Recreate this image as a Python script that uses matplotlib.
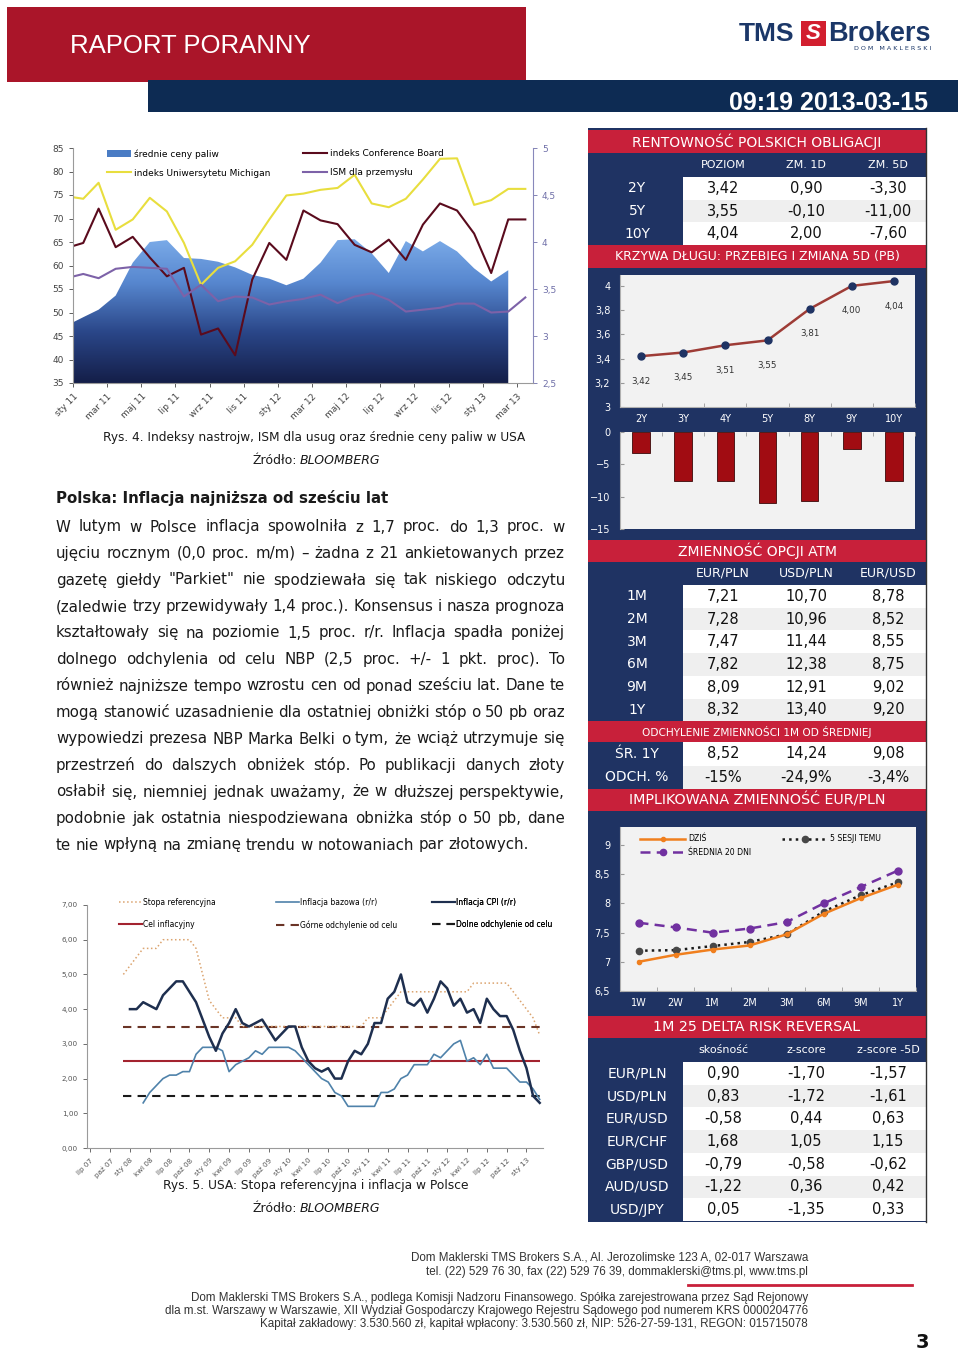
import numpy as np
import matplotlib.pyplot as plt
from matplotlib.patches import Rectangle, Patch
from matplotlib.lines import Line2D
from matplotlib.colors import LinearSegmentedColormap

plt.rcParams['font.family'] = ['DejaVu Sans']

# ---------------- data ----------------
# Rys. 4 - USA (months from sty 11)
us_x = [0.05, 0.6, 1.5, 2.5, 3.5, 4.5, 5.5, 6.5, 7.5, 8.5, 9.5, 10.5, 11.5, 12.5,
        13.5, 14.5, 15.5, 16.5, 17.5, 18.5, 19.5, 20.5, 21.5, 22.5, 23.5, 24.5, 25.5, 26.5]
us_ticks = ['sty 11', 'mar 11', 'maj 11', 'lip 11', 'wrz 11', 'lis 11', 'sty 12', 'mar 12',
            'maj 12', 'lip 12', 'wrz 12', 'lis 12', 'sty 13', 'mar 13']
michigan = [74.5, 74.2, 77.6, 67.6, 69.8, 74.4, 71.5, 64.8, 55.9, 59.5, 60.9, 64.4, 69.8, 74.9,
            75.3, 76.1, 76.5, 79.3, 73.2, 72.4, 74.2, 78.3, 82.7, 82.8, 72.9, 73.9, 76.3, 76.3]
conf_board = [64.2, 64.8, 72.1, 63.9, 66.1, 61.7, 57.7, 59.5, 45.3, 46.6, 40.9, 57.0, 64.8, 61.2,
              71.7, 69.6, 68.8, 64.4, 62.8, 65.5, 61.2, 68.7, 73.2, 71.7, 66.8, 58.4, 69.8, 69.8]
ism = [57.7, 58.2, 57.3, 59.3, 59.7, 59.5, 59.3, 53.4, 55.9, 52.4, 53.4, 53.2, 51.7, 52.4,
       52.9, 53.8, 52.0, 53.4, 54.1, 52.7, 50.2, 50.6, 51.0, 51.9, 51.9, 50.0, 50.2, 53.2]
fuel = [3.15, 3.20, 3.28, 3.43, 3.78, 4.00, 4.02, 3.83, 3.82, 3.79, 3.73, 3.65, 3.61, 3.54,
        3.61, 3.78, 4.02, 4.03, 3.88, 3.67, 4.01, 3.90, 4.01, 3.90, 3.72, 3.58, 3.70]

# Rys. 5 - Polska (months from lip 07)
pl_ticks = ['lip 07', 'paź 07', 'sty 08', 'kwi 08', 'lip 08', 'paź 08', 'sty 09', 'kwi 09',
            'lip 09', 'paź 09', 'sty 10', 'kwi 10', 'lip 10', 'paź 10', 'sty 11', 'kwi 11',
            'lip 11', 'paź 11', 'sty 12', 'kwi 12', 'lip 12', 'paź 12', 'sty 13']
ref_rate = [5.00, 5.25, 5.50, 5.75, 5.75, 5.75, 6.00, 6.00, 6.00, 6.00, 6.00, 5.75, 5.00, 4.25,
            4.00, 3.75, 3.75, 3.75, 3.50, 3.50, 3.50, 3.50, 3.50, 3.50, 3.50, 3.50, 3.50, 3.50,
            3.50, 3.50, 3.50, 3.50, 3.50, 3.50, 3.50, 3.50, 3.50, 3.75, 3.75, 3.75, 4.00, 4.25,
            4.50, 4.50, 4.50, 4.50, 4.50, 4.50, 4.50, 4.50, 4.50, 4.50, 4.50, 4.75, 4.75, 4.75,
            4.75, 4.75, 4.75, 4.50, 4.25, 4.00, 3.75, 3.25]
cpi = [4.0, 4.0, 4.2, 4.1, 4.0, 4.4, 4.6, 4.8, 4.8, 4.5, 4.2, 3.7, 3.2, 2.8, 3.3, 3.6, 4.0, 3.6,
       3.5, 3.6, 3.7, 3.4, 3.1, 3.3, 3.5, 3.5, 2.9, 2.5, 2.3, 2.2, 2.3, 2.0, 2.0, 2.5, 2.8, 2.7,
       3.0, 3.6, 3.6, 4.3, 4.5, 5.0, 4.2, 4.1, 4.3, 3.9, 4.3, 4.8, 4.6, 4.1, 4.3, 3.9, 4.0, 3.6,
       4.3, 4.0, 3.8, 3.8, 3.4, 2.8, 2.3, 1.5, 1.3]
core = [1.3, 1.6, 1.8, 2.0, 2.1, 2.1, 2.2, 2.2, 2.7, 2.9, 2.9, 2.9, 2.8, 2.2, 2.4, 2.5, 2.6, 2.8,
        2.7, 2.9, 2.9, 2.9, 2.9, 2.8, 2.6, 2.4, 2.2, 2.0, 1.9, 1.6, 1.5, 1.2, 1.2, 1.2, 1.2, 1.2,
        1.6, 1.6, 1.7, 2.0, 2.1, 2.4, 2.4, 2.4, 2.7, 2.6, 2.8, 3.0, 3.1, 2.5, 2.6, 2.4, 2.7, 2.3,
        2.3, 2.3, 2.1, 1.9, 1.9, 1.7, 1.4]
ref_start, cpi_start, core_start = 5, 6, 8
nbp_target, nbp_band = 2.5, 1.0

# tables / right panel
bond_tenors = ['2Y', '5Y', '10Y']
bond_level = [3.42, 3.55, 4.04]
bond_chg1d = [0.90, -0.10, 2.00]
bond_chg5d = [-3.30, -11.00, -7.60]
curve_tenors = ['2Y', '3Y', '4Y', '5Y', '8Y', '9Y', '10Y']
curve_yield = [3.42, 3.45, 3.51, 3.55, 3.81, 4.00, 4.04]
curve_chg5d = [-3.3, -7.5, -7.6, -11.0, -10.6, -2.6, -7.6]
vol_tenors = ['1M', '2M', '3M', '6M', '9M', '1Y']
vol_eurpln = [7.21, 7.28, 7.47, 7.82, 8.09, 8.32]
vol_usdpln = [10.70, 10.96, 11.44, 12.38, 12.91, 13.40]
vol_eurusd = [8.78, 8.52, 8.55, 8.75, 9.02, 9.20]
vol_avg1y = [8.52, 14.24, 9.08]
vol_dev = ['-15%', '-24,9%', '-3,4%']
iv_tenors = ['1W', '2W', '1M', '2M', '3M', '6M', '9M', '1Y']
iv_today = [7.00, 7.12, 7.21, 7.28, 7.47, 7.82, 8.09, 8.32]
iv_5d = [7.19, 7.20, 7.27, 7.34, 7.47, 7.86, 8.14, 8.36]
iv_avg20 = [7.67, 7.59, 7.50, 7.57, 7.68, 8.00, 8.28, 8.56]
rr_pairs = ['EUR/PLN', 'USD/PLN', 'EUR/USD', 'EUR/CHF', 'GBP/USD', 'AUD/USD', 'USD/JPY']
rr_skew = [0.90, 0.83, -0.58, 1.68, -0.79, -1.22, 0.05]
rr_z = [-1.70, -1.72, 0.44, 1.05, -0.58, 0.36, -1.35]
rr_z5d = [-1.57, -1.61, 0.63, 1.15, -0.62, 0.42, 0.33]

body = [
    'W lutym w Polsce inflacja spowolniła z 1,7 proc. do 1,3 proc. w',
    'ujęciu rocznym (0,0 proc. m/m) – żadna z 21 ankietowanych przez',
    'gazetę giełdy "Parkiet" nie spodziewała się tak niskiego odczytu',
    '(zaledwie trzy przewidywały 1,4 proc.). Konsensus i nasza prognoza',
    'kształtowały się na poziomie 1,5 proc. r/r. Inflacja spadła poniżej',
    'dolnego odchylenia od celu NBP (2,5 proc. +/- 1 pkt. proc). To',
    'również najniższe tempo wzrostu cen od ponad sześciu lat. Dane te',
    'mogą stanowić uzasadnienie dla ostatniej obniżki stóp o 50 pb oraz',
    'wypowiedzi prezesa NBP Marka Belki o tym, że wciąż utrzymuje się',
    'przestrzeń do dalszych obniżek stóp. Po publikacji danych złoty',
    'osłabił się, niemniej jednak uważamy, że w dłuższej perspektywie,',
    'podobnie jak ostatnia niespodziewana obniżka stóp o 50 pb, dane',
    'te nie wpłyną na zmianę trendu w notowaniach par złotowych.',
]

RED = '#c8203a'
NAVY = '#1f3363'
HEAD_RED = '#aa1529'
HEAD_NAVY = '#0d2b53'
TXT = '#1a1a1a'


def pl(v):
    return f'{v:.2f}'.replace('.', ',')


fig = plt.figure(figsize=(9.6, 13.52), dpi=100)
page = fig.add_axes([0, 0, 1, 1])
page.set_xlim(0, 960)
page.set_ylim(1352, 0)
page.axis('off')


def px_axes(x, y, w, h):
    return fig.add_axes([x / 960, 1 - (y + h) / 1352, w / 960, h / 1352])


def rect(x, y, w, h, color):
    page.add_patch(Rectangle((x, y), w, h, facecolor=color, edgecolor='none'))


def ctext(x, y, s, size, color='white', **kw):
    page.text(x, y, s, fontsize=size, color=color, ha='center', va='center', **kw)


# ---------------- header ----------------
rect(7, 7, 519, 75, HEAD_RED)
rect(148, 80, 810, 32, HEAD_NAVY)
page.text(70, 46, 'RAPORT PORANNY', fontsize=18.5, color='white', va='center',
          family='Liberation Sans')
page.text(928, 103, '09:19 2013-03-15', fontsize=18, color='white', va='center', ha='right',
          family='Liberation Sans', fontweight='bold')
page.text(739, 34, 'TMS', fontsize=19, color='#1b3768', va='center', family='Liberation Sans',
          fontweight='bold')
rect(801, 21, 25, 25, '#d21f2f')
ctext(813.5, 33.5, 'S', 16, family='Liberation Sans', fontweight='bold', style='italic')
page.text(828, 34, 'Brokers', fontsize=19.5, color='#1b3768', va='center',
          family='Liberation Sans', fontweight='bold')
page.text(931, 48, 'D O M   M A K L E R S K I', fontsize=4.6, color='#1b3768', va='center',
          ha='right')

# ---------------- Rys. 4 ----------------
ax1 = px_axes(73, 148, 460, 235)
ax1r = ax1.twinx()
ax1.set_zorder(ax1r.get_zorder() + 1)
ax1.patch.set_visible(False)

cmap = LinearSegmentedColormap.from_list('fuel', ['#141e48', '#2a4688', '#5787cf', '#80b0ec'])
poly = ax1r.fill_between(us_x[:len(fuel)], fuel, 2.5, facecolor='none', edgecolor='none')
grad = np.linspace(0, 1, 256).reshape(-1, 1)
im = ax1r.imshow(grad, extent=[0, 27, 2.5, 4.1], origin='lower', aspect='auto', cmap=cmap)
im.set_clip_path(poly.get_paths()[0], transform=ax1r.transData)

c_conf, c_mich, c_ism = '#5a0b1d', '#e8de3e', '#7d62a8'
ax1.plot(us_x, michigan, color=c_mich, lw=1.5)
ax1.plot(us_x, conf_board, color=c_conf, lw=1.5)
ax1.plot(us_x, ism, color=c_ism, lw=1.5)

ax1.set_xlim(0, 26.95)
ax1.set_ylim(35, 85)
ax1r.set_xlim(0, 26.95)
ax1r.set_ylim(2.5, 5)
ax1.set_yticks(range(35, 90, 5))
ax1r.set_yticks([2.5, 3, 3.5, 4, 4.5, 5])
ax1r.set_yticklabels(['2,5', '3', '3,5', '4', '4,5', '5'])
ax1.set_xticks(range(0, 27, 2))
ax1.set_xticklabels(us_ticks, rotation=45, ha='right', rotation_mode='anchor')
ax1.tick_params(labelsize=6.5, colors='#444444', length=3, width=0.6)
ax1r.tick_params(labelsize=6.5, colors='#6f6fa8', length=3, width=0.6)
for s in ['top', 'right']:
    ax1.spines[s].set_visible(False)
for s in ['top', 'left', 'bottom']:
    ax1r.spines[s].set_visible(False)
ax1.spines['left'].set_color('#9a9a9a')
ax1.spines['bottom'].set_color('#9a9a9a')
ax1r.spines['right'].set_color('#8888bb')

legkw = dict(frameon=False, fontsize=6.5, handlelength=2.7, borderpad=0, borderaxespad=0,
             labelspacing=1.1, handletextpad=0.3, loc='upper left')
leg = ax1.legend([Patch(facecolor='#4a7cc4'), Line2D([], [], color=c_mich, lw=1.5)],
                 ['średnie ceny paliw', 'indeks Uniwersytetu Michigan'],
                 bbox_to_anchor=(34 / 460, 0.995), **legkw)
ax1.add_artist(leg)
ax1.legend([Line2D([], [], color=c_conf, lw=1.5), Line2D([], [], color=c_ism, lw=1.5)],
           ['indeks Conference Board', 'ISM dla przemysłu'],
           bbox_to_anchor=(230 / 460, 0.995), **legkw)

page.text(103, 437, 'Rys. 4. Indeksy nastrojw, ISM dla usug oraz średnie ceny paliw w USA',
          fontsize=8.7, color=TXT, va='center')
page.text(297, 460, 'Źródło:', fontsize=9, color=TXT, va='center', ha='right')
page.text(300, 460, 'BLOOMBERG', fontsize=9, color=TXT, va='center', style='italic')

# ---------------- article ----------------
page.text(56, 498, 'Polska: Inflacja najniższa od sześciu lat', fontsize=10.8,
          fontweight='bold', color=TXT, va='center')
renderer = fig.canvas.get_renderer()
body_size = 10.8
x0, x1 = 56, 565
for i, line in enumerate(body):
    y = 527 + i * 26.5 + 4.5
    words = line.split(' ')
    ts = [page.text(0, y, w, fontsize=body_size, color=TXT, va='baseline') for w in words]
    ws = [t.get_window_extent(renderer).width for t in ts]
    if i == len(body) - 1:
        gap = 0.318 * body_size * 100 / 72
    else:
        gap = (x1 - x0 - sum(ws)) / (len(words) - 1)
    x = x0
    for t, w in zip(ts, ws):
        t.set_x(x)
        x += w + gap

# ---------------- Rys. 5 ----------------
ax2 = px_axes(87, 905, 456, 243)
ref_m = np.arange(ref_start, ref_start + len(ref_rate))
cpi_m = np.arange(cpi_start, cpi_start + len(cpi))
core_m = np.arange(core_start, core_start + len(core))
c_ref, c_core, c_cpi = '#dba36e', '#4f82aa', '#1e2f4f'
c_tgt, c_up, c_lo = '#a3232f', '#6a3426', '#1a1a1a'
ax2.hlines(nbp_target + nbp_band, ref_m[0], ref_m[-1], color=c_up, lw=1.5, linestyles=(0, (4, 3)))
ax2.hlines(nbp_target - nbp_band, ref_m[0], ref_m[-1], color=c_lo, lw=1.5, linestyles=(0, (4, 3)))
ax2.hlines(nbp_target, ref_m[0], ref_m[-1], color=c_tgt, lw=1.5)
ax2.plot(ref_m, ref_rate, color=c_ref, lw=1.1, ls=':')
ax2.plot(core_m, core, color=c_core, lw=1.2)
ax2.plot(cpi_m, cpi, color=c_cpi, lw=1.8)
ax2.set_xlim(-0.5, 68.5)
ax2.set_ylim(0, 7)
ax2.set_yticks(range(0, 8))
ax2.set_yticklabels([pl(v) for v in range(0, 8)])
ax2.set_xticks(range(0, 67, 3))
ax2.set_xticklabels(pl_ticks, rotation=45, ha='right', rotation_mode='anchor')
ax2.tick_params(labelsize=5.2, colors='#555555', length=3, width=0.6)
for s in ['top', 'right']:
    ax2.spines[s].set_visible(False)
ax2.spines['left'].set_color('#9a9a9a')
ax2.spines['bottom'].set_color('#9a9a9a')

legkw2 = dict(frameon=False, fontsize=5.5, handlelength=3.0, borderpad=0, borderaxespad=0,
              labelspacing=1.75, handletextpad=0.2, loc='upper left')
cols = [
    ([Line2D([], [], color=c_ref, lw=1.1, ls=':'), Line2D([], [], color=c_tgt, lw=1.5)],
     ['Stopa referencyjna', 'Cel inflacyjny'], 119),
    ([Line2D([], [], color=c_core, lw=1.2), Line2D([], [], color=c_up, lw=1.5, ls=(0, (4, 3)))],
     ['Inflacja bazowa (r/r)', 'Górne odchylenie od celu'], 276),
    ([Line2D([], [], color=c_cpi, lw=1.5), Line2D([], [], color=c_lo, lw=1.5, ls=(0, (4, 3)))],
     ['Inflacja CPI (r/r)', 'Dolne odchylenie od celu'], 432),
]
for hs, ls_, xp in cols:
    lg = ax2.legend(hs, ls_, bbox_to_anchor=((xp - 87) / 456, 1.03), **legkw2)
    ax2.add_artist(lg)

page.text(163, 1186, 'Rys. 5. USA: Stopa referencyjna i inflacja w Polsce', fontsize=8.8,
          color=TXT, va='center')
page.text(297, 1208, 'Źródło:', fontsize=9, color=TXT, va='center', ha='right')
page.text(300, 1208, 'BLOOMBERG', fontsize=9, color=TXT, va='center', style='italic')

# ---------------- right panel ----------------
rect(588, 128, 338, 1094, NAVY)
COLX = [723, 806, 888]


def red_bar(y, h, s, size=10):
    rect(588, y, 338, h, RED)
    ctext(757, y + h / 2, s, size)


def rows(y0, labels, columns, rh=22.7, vsize=10.5, lsize=10):
    for i, lab in enumerate(labels):
        y = y0 + i * rh
        rect(683, y, 243, rh, '#ffffff' if i % 2 == 0 else '#efefef')
        ctext(637, y + rh / 2, lab, lsize)
        for cx, col in zip(COLX, columns):
            v = col[i]
            ctext(cx, y + rh / 2, v if isinstance(v, str) else pl(v), vsize, color='#111111')


red_bar(130, 23, 'RENTOWNOŚĆ POLSKICH OBLIGACJI')
for cx, h in zip(COLX, ['POZIOM', 'ZM. 1D', 'ZM. 5D']):
    ctext(cx, 165, h, 8)
rows(177, bond_tenors, [bond_level, bond_chg1d, bond_chg5d])
red_bar(245, 23, 'KRZYWA DŁUGU: PRZEBIEG I ZMIANA 5D (PB)', 9)

# yield curve
axc = px_axes(620, 275, 295, 132)
axc.set_facecolor('#f2f2f2')
xc = np.arange(len(curve_tenors))
axc.plot(xc, curve_yield, color='#9e3c36', lw=1.8, zorder=2)
axc.plot(xc, curve_yield, 'o', color='#1f3363', ms=5, zorder=3)
for xi, v in zip(xc, curve_yield):
    axc.annotate(pl(v), (xi, v), xytext=(0, -18), textcoords='offset points', ha='center',
                 va='center', fontsize=6.3, color='#333333')
axc.set_xlim(-0.5, len(curve_tenors) - 0.5)
axc.set_ylim(3, 4.09)
axc.set_yticks([3, 3.2, 3.4, 3.6, 3.8, 4])
axc.set_yticklabels(['3', '3,2', '3,4', '3,6', '3,8', '4'])
axc.set_xticks(xc)
axc.set_xticklabels(curve_tenors)
axc.set_xticks(np.arange(-0.5, len(curve_tenors), 1), minor=True)
axc.tick_params(which='major', length=0, labelsize=7, colors='white', pad=5)
axc.tick_params(which='minor', length=3, direction='in', color='#999999')
axc.tick_params(axis='y', which='major', length=3, direction='in', color='#999999', pad=7)
for s in axc.spines.values():
    s.set_visible(False)
axc.spines['left'].set_visible(True)
axc.spines['bottom'].set_visible(True)
axc.spines['left'].set_color('#b0b0b0')
axc.spines['bottom'].set_color('#b0b0b0')

# 5D change bars
axb = px_axes(620, 432, 295, 97)
axb.set_facecolor('#f2f2f2')
axb.bar(xc, curve_chg5d, width=0.42, color='#a10c12', edgecolor='#3b0a0a', lw=0.6)
axb.set_xlim(-0.5, len(curve_tenors) - 0.5)
axb.set_ylim(-15, 0)
axb.set_yticks([0, -5, -10, -15])
axb.set_xticks([])
axb.set_xticks(np.arange(-0.5, len(curve_tenors), 1), minor=True)
axb.tick_params(axis='y', length=3, direction='in', labelsize=7, labelcolor='white',
                color='#999999', pad=7)
axb.tick_params(axis='x', which='minor', top=True, bottom=False, direction='in', length=3,
                color='#999999')
for s in axb.spines.values():
    s.set_visible(False)
axb.spines['left'].set_visible(True)
axb.spines['left'].set_color('#b0b0b0')

# ATM vols
red_bar(540, 22, 'ZMIENNOŚĆ OPCJI ATM')
for cx, h in zip(COLX, ['EUR/PLN', 'USD/PLN', 'EUR/USD']):
    ctext(cx, 573, h, 9)
rows(585, vol_tenors, [vol_eurpln, vol_usdpln, vol_eurusd])
red_bar(721, 21, 'ODCHYLENIE ZMIENNOŚCI 1M OD ŚREDNIEJ', 7.6)
rows(742, ['ŚR. 1Y', 'ODCH. %'], [[a, d] for a, d in zip(vol_avg1y, vol_dev)], rh=23.5)
red_bar(789, 22, 'IMPLIKOWANA ZMIENNOŚĆ EUR/PLN', 10.3)

# implied vol curve
axv = px_axes(620, 827, 296, 164)
axv.set_facecolor('#f2f2f2')
xv = np.arange(len(iv_tenors))
c_today, c_5d, c_avg = '#f07f1e', '#1a1a1a', '#7131a0'
axv.plot(xv, iv_5d, color=c_5d, lw=1.8, ls=':', marker='o', ms=4.5, mfc='#474747', mec='#474747')
axv.plot(xv, iv_avg20, color=c_avg, lw=1.8, ls=(0, (4, 2.5)), marker='o', ms=5)
axv.plot(xv, iv_today, color=c_today, lw=1.8, marker='o', ms=3)
axv.set_xlim(-0.5, len(iv_tenors) - 0.5)
axv.set_ylim(6.5, 9.31)
axv.set_yticks([6.5, 7, 7.5, 8, 8.5, 9])
axv.set_yticklabels(['6,5', '7', '7,5', '8', '8,5', '9'])
axv.set_xticks(xv)
axv.set_xticklabels(iv_tenors)
axv.set_xticks(np.arange(-0.5, len(iv_tenors), 1), minor=True)
axv.tick_params(which='major', length=0, labelsize=7, colors='white', pad=5)
axv.tick_params(which='minor', length=3, direction='in', color='#999999')
axv.tick_params(axis='y', which='major', length=3, direction='in', color='#999999', pad=7)
for s in axv.spines.values():
    s.set_visible(False)
axv.spines['left'].set_visible(True)
axv.spines['bottom'].set_visible(True)
axv.spines['left'].set_color('#b0b0b0')
axv.spines['bottom'].set_color('#b0b0b0')
legkw3 = dict(frameon=False, fontsize=5.6, handlelength=5.8, borderpad=0, borderaxespad=0,
              labelspacing=0.55, handletextpad=0.4, loc='upper left', numpoints=1)
lgv = axv.legend([Line2D([], [], color=c_today, lw=1.8, marker='o', ms=3),
                  Line2D([], [], color=c_avg, lw=1.8, ls=(0, (4, 2.5)), marker='o', ms=4.5)],
                 ['DZIŚ', 'ŚREDNIA 20 DNI'], bbox_to_anchor=(20 / 296, 0.955), **legkw3)
axv.add_artist(lgv)
axv.legend([Line2D([], [], color=c_5d, lw=1.8, ls=':', marker='o', ms=4.5, mfc='#474747',
                   mec='#474747')],
           ['5 SESJI TEMU'], bbox_to_anchor=(162 / 296, 0.955), **legkw3)

# risk reversals
red_bar(1016, 22, '1M 25 DELTA RISK REVERSAL', 10.3)
for cx, h in zip(COLX, ['skośność', 'z-score', 'z-score -5D']):
    ctext(cx, 1050, h, 8)
rows(1062, rr_pairs, [rr_skew, rr_z, rr_z5d])
page.plot([926, 926], [128, 1222], color='#333333', lw=1)

# ---------------- footer ----------------
ff = dict(fontsize=8.4, color='#333333', ha='right', va='center', family='Liberation Sans')
page.text(808, 1258, 'Dom Maklerski TMS Brokers S.A., Al. Jerozolimske 123 A, 02-017 Warszawa', **ff)
page.text(808, 1272, 'tel. (22) 529 76 30, fax (22) 529 76 39, dommaklerski@tms.pl, www.tms.pl', **ff)
page.plot([688, 912], [1285, 1285], color=RED, lw=2)
page.text(808, 1298, 'Dom Maklerski TMS Brokers S.A., podlega Komisji Nadzoru Finansowego. '
          'Spółka zarejestrowana przez Sąd Rejonowy', **ff)
page.text(808, 1311, 'dla m.st. Warszawy w Warszawie, XII Wydział Gospodarczy Krajowego Rejestru '
          'Sądowego pod numerem KRS 0000204776', **ff)
page.text(808, 1324, 'Kapitał zakładowy: 3.530.560 zł, kapitał wpłacony: 3.530.560 zł, '
          'NIP: 526-27-59-131, REGON: 015715078', **ff)
page.text(922, 1342, '3', fontsize=14, fontweight='bold', color='#111111', ha='center',
          va='center')

fig.savefig('out.png', dpi=100)
